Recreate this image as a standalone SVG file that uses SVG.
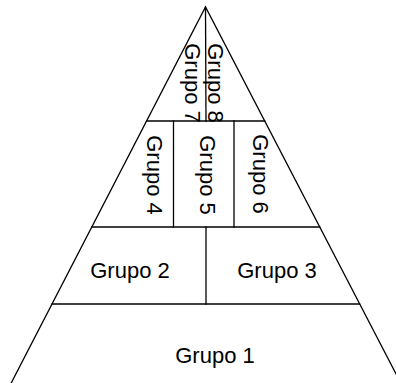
<svg xmlns="http://www.w3.org/2000/svg" width="396" height="383" viewBox="0 0 396 383">
<style>
.ln{stroke:#000;stroke-width:1.3;fill:none;stroke-linecap:square}
.t{font-family:"Liberation Sans",Arial,sans-serif;font-size:22px;fill:#000}
.m{text-anchor:middle}
</style>
<rect width="396" height="383" fill="#fff"/>
<g id="pyramid">
<polyline class="ln" points="5,395 205.5,7 407,395"/>
<line class="ln" x1="146.7" y1="121" x2="264.7" y2="121"/>
<line class="ln" x1="92" y1="227" x2="319.7" y2="227"/>
<line class="ln" x1="52.2" y1="304" x2="359.6" y2="304"/>
<line class="ln" x1="205.5" y1="7" x2="206" y2="121"/>
<line class="ln" x1="173.5" y1="121" x2="173.5" y2="227"/>
<line class="ln" x1="234" y1="121" x2="234" y2="227"/>
<line class="ln" x1="206" y1="227" x2="206" y2="304"/>
</g>
<g id="grupo1"><text class="t m" x="215" y="363">Grupo 1</text></g>
<g id="grupo2"><text class="t m" x="130" y="278">Grupo 2</text></g>
<g id="grupo3"><text class="t m" x="277" y="278">Grupo 3</text></g>
<g id="grupo4"><text class="t m" transform="translate(147,175) rotate(90)">Grupo 4</text></g>
<g id="grupo5"><text class="t m" transform="translate(200,175) rotate(90)">Grupo 5</text></g>
<g id="grupo6"><text class="t m" transform="translate(253,174) rotate(90)">Grupo 6</text></g>
<g id="grupo7"><text class="t m" transform="translate(185,83) rotate(90)">Grupo 7</text></g>
<g id="grupo8"><text class="t m" transform="translate(208,83) rotate(90)">Grupo 8</text></g>
</svg>
